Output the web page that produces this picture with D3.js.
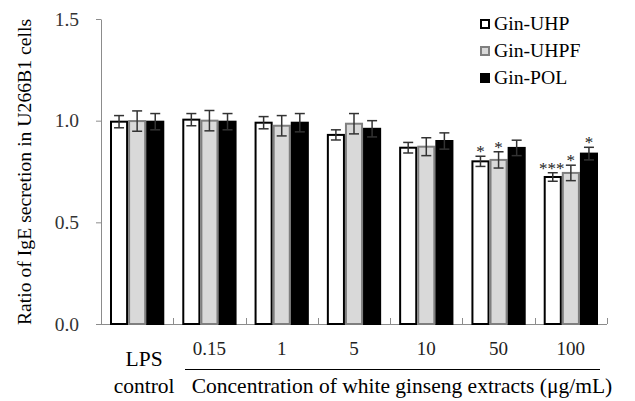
<!DOCTYPE html>
<html><head><meta charset="utf-8">
<script src="https://cdn.jsdelivr.net/npm/d3@7"></script>
<style>body{margin:0;background:#fff}svg{display:block}</style>
</head><body>
<svg id="c" width="635" height="401"></svg>
<script>
const categories = ["LPS control", "0.15", "1", "5", "10", "50", "100"];
const series = ["Gin-UHP", "Gin-UHPF", "Gin-POL"];
const uhp  = [0.995, 1.005, 0.99, 0.93, 0.867, 0.80, 0.723];
const uhpf = [0.998, 1.0, 0.975, 0.985, 0.872, 0.807, 0.743];
const pol  = [0.995, 0.995, 0.99, 0.96, 0.90, 0.866, 0.838];
const uhpErr  = [0.03, 0.03, 0.03, 0.025, 0.026, 0.025, 0.021];
const uhpfErr = [0.05, 0.05, 0.05, 0.05, 0.044, 0.04, 0.038];
const polErr  = [0.04, 0.04, 0.045, 0.04, 0.04, 0.038, 0.031];
const uhpSig  = ["", "", "", "", "", "*", "***"];
const uhpfSig = ["", "", "", "", "", "*", "*"];
const polSig  = ["", "", "", "", "", "", "*"];
const yTicks = [0, 0.5, 1.0, 1.5];

const values = [uhp, uhpf, pol], errs = [uhpErr, uhpfErr, polErr], sigs = [uhpSig, uhpfSig, polSig];
const fills = ["#ffffff", "#d9d9d9", "#000000"];
const strokes = ["#000000", "#7f7f7f", "#000000"];
const font = "'Liberation Serif', 'Times New Roman', serif";

const svg = d3.select("#c");
const m = {l: 101, r: 607, t: 19, b: 324};
const y = d3.scaleLinear().domain([0, 1.5]).range([m.b, m.t]);
const x0 = d3.scaleBand().domain(categories).range([m.l, m.r]).paddingInner(0).paddingOuter(0);
const x1 = d3.scaleBand().domain(series).range([9, x0.bandwidth() - 9]);

// y axis
const ya = svg.append("g").attr("transform", `translate(${m.l},0)`)
  .call(d3.axisLeft(y).tickValues(yTicks).tickFormat(d3.format(".1f")).tickSize(5).tickSizeOuter(0));
ya.select(".domain").attr("stroke", "#8c8c8c");
ya.selectAll(".tick line").attr("stroke", "#8c8c8c");
ya.selectAll(".tick text").attr("font-family", font).attr("font-size", 19.5).attr("fill", "#333").attr("x", -22);

// x axis line with inward ticks between groups
const xa = svg.append("g");
xa.append("line").attr("x1", m.l).attr("x2", m.r).attr("y1", m.b + 0.5).attr("y2", m.b + 0.5).attr("stroke", "#8c8c8c");
categories.forEach((c, i) => {
  const xx = Math.round(x0(c) + x0.bandwidth()) + 0.5;
  xa.append("line").attr("x1", xx).attr("x2", xx).attr("y1", m.b).attr("y2", m.b - 6).attr("stroke", "#8c8c8c");
});

// bars
const g = svg.append("g");
categories.forEach((c, i) => {
  series.forEach((s, j) => {
    const v = values[j][i], e = errs[j][i];
    const bx = x0(c) + x1(s);
    const bw = x1.bandwidth();
    g.append("rect").attr("x", bx + 1).attr("y", y(v)).attr("width", bw - 2).attr("height", y(0) - y(v))
      .attr("fill", fills[j]).attr("stroke", strokes[j]).attr("stroke-width", 2);
    const cx = bx + bw / 2;
    g.append("line").attr("x1", cx).attr("x2", cx).attr("y1", y(v + e)).attr("y2", y(v - e)).attr("stroke", "#333").attr("stroke-width", 1.5);
    [v + e, v - e].forEach(t => g.append("line").attr("x1", cx - 5).attr("x2", cx + 5).attr("y1", y(t)).attr("y2", y(t)).attr("stroke", "#333").attr("stroke-width", 1.5));
    const sg = sigs[j][i];
    if (sg) {
      g.append("text").attr("x", cx - (sg.length > 1 ? 1 : 0)).attr("y", y(v + e) + 1).attr("text-anchor", "middle")
        .attr("font-family", font).attr("font-size", 17).attr("fill", "#222").text(sg);
    }
  });
});

// x labels
categories.forEach((c, i) => {
  const cx = x0(c) + x0.bandwidth() / 2;
  if (i === 0) {
    svg.append("text").attr("x", cx + 7).attr("y", 366).attr("text-anchor", "middle").attr("font-family", font).attr("font-size", 21.5).attr("fill", "#000").text("LPS");
    svg.append("text").attr("x", cx + 7).attr("y", 393).attr("text-anchor", "middle").attr("font-family", font).attr("font-size", 21.5).attr("fill", "#000").text("control");
  } else {
    svg.append("text").attr("x", cx).attr("y", 355).attr("text-anchor", "middle").attr("font-family", font).attr("font-size", 19).attr("fill", "#222").text(c);
  }
});
svg.append("line").attr("x1", 185).attr("x2", 600).attr("y1", 369.5).attr("y2", 369.5).attr("stroke", "#000").attr("stroke-width", 1);
svg.append("text").attr("x", 402).attr("y", 393).attr("text-anchor", "middle").attr("font-family", font).attr("font-size", 21.5).attr("fill", "#000")
  .text("Concentration of white ginseng extracts (\u03bcg/mL)");

// y title
svg.append("text").attr("transform", "translate(31,172) rotate(-90)").attr("text-anchor", "middle")
  .attr("font-family", font).attr("font-size", 19.7).attr("fill", "#000").text("Ratio of IgE secretion in U266B1 cells");

// legend
const lg = svg.append("g").attr("transform", "translate(480,19)");
series.forEach((s, j) => {
  const r = lg.append("g").attr("transform", `translate(0,${j * 27})`);
  r.append("rect").attr("x", 1).attr("y", 1).attr("width", 8).attr("height", 8).attr("fill", fills[j]).attr("stroke", strokes[j]).attr("stroke-width", 2);
  r.append("text").attr("x", 14).attr("y", 11).attr("font-family", font).attr("font-size", 19.7).attr("fill", "#000").text(s);
});
</script>
</body></html>
